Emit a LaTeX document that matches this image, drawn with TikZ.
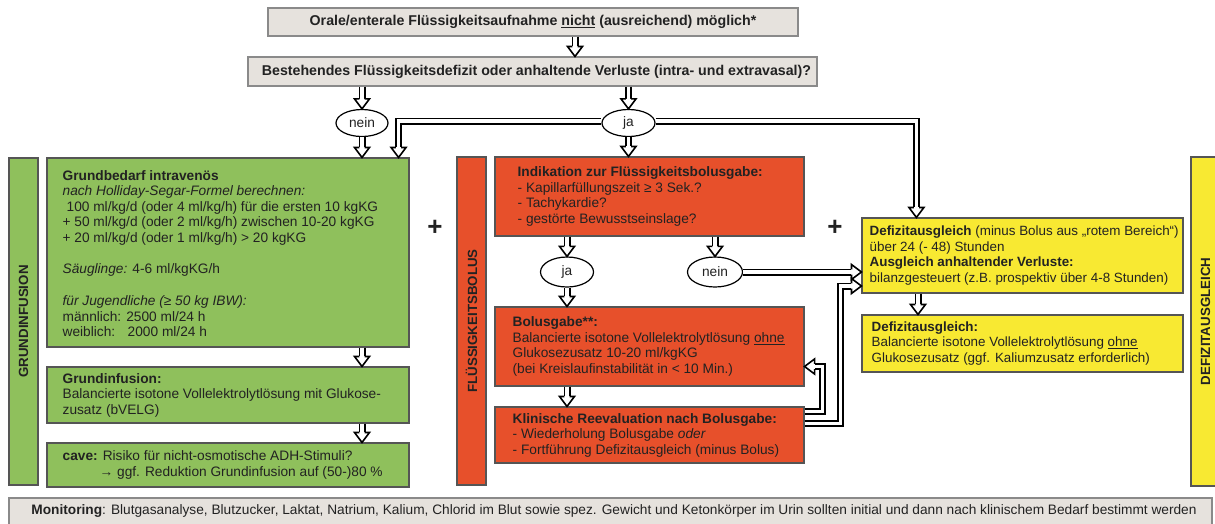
\documentclass[tikz,border=0pt]{standalone}
\usepackage{fontspec}
\setmainfont{Liberation Sans}
\usetikzlibrary{arrows.meta,shapes.geometric,calc,decorations.markings}
\definecolor{bgray}{HTML}{E6E2DD}
\definecolor{bline}{HTML}{555555}
\definecolor{tline}{HTML}{8A8A8A}
\definecolor{gfill}{HTML}{8FC05C}
\definecolor{rfill}{HTML}{E7502B}
\definecolor{yfill}{HTML}{F8E932}
\definecolor{txt}{HTML}{222222}
\newcommand\hconn[1]{\draw[hshaft] #1; \path[hhead] #1;}
\begin{document}
\begin{tikzpicture}[x=1pt,y=-1pt,
  every node/.style={font=\fontsize{13.7}{15.5}\selectfont, inner sep=0pt, text=txt},
  box/.style={draw=bline, line width=1.1pt, rectangle, inner sep=0pt},
  graybox/.style={box, draw=tline, fill=bgray},
  greenbox/.style={box, fill=gfill},
  redbox/.style={box, fill=rfill},
  yellowbox/.style={box, fill=yfill},
  dec/.style={ellipse, draw=black, fill=white, line width=1.2pt, inner sep=0pt},
  hshaft/.style={draw=black, double=white, double distance=3.6pt, line width=1.7pt, shorten >=10pt, line join=miter},
  hhead/.style={decorate, decoration={markings, mark=at position 0.99999 with {
     \fill[white] (-10pt,2.65pt) -- (-10pt,7.5pt) -- (0pt,0pt) -- (-10pt,-7.5pt) -- (-10pt,-2.65pt) -- cycle;
     \draw[black, line width=1.6pt, line join=miter, line cap=butt] (-10pt,2.65pt) -- (-10pt,7.5pt) -- (0pt,0pt) -- (-10pt,-7.5pt) -- (-10pt,-2.65pt);
  }}},
  btext/.style={align=left, anchor=west},
  ytext/.style={btext, font=\fontsize{13.4}{15.5}\selectfont},
  toptext/.style={font=\fontsize{14.2}{16}\selectfont\bfseries},
  side/.style={rotate=90, font=\fontsize{13.3}{15.5}\selectfont\bfseries},
  plus/.style={font=\fontsize{26}{26}\selectfont\bfseries}
]
\useasboundingbox (0,0) rectangle (1215,523);
\clip (0,0) rectangle (1215,523);

% top boxes
\node[graybox, minimum width=530pt, minimum height=28pt] (top1) at (533,22) {};
\node[toptext] (top1t) at (top1) {Orale/enterale Flüssigkeitsaufnahme \underline{nicht} (ausreichend) möglich*};
\node[graybox, minimum width=569pt, minimum height=29pt] (top2) at (532.5,71.5) {};
\node[toptext] (top2t) at ([xshift=4pt]top2.center) {Bestehendes Flüssigkeitsdefizit oder anhaltende Verluste (intra- und extravasal)?};

% decisions
\node[dec, minimum width=52pt, minimum height=27pt] (n1) at (362,123) {nein};
\node[dec, minimum width=53pt, minimum height=27pt] (j1) at (628.5,123) {ja};

% side bars
\node[box, fill=gfill, minimum width=29pt, minimum height=327pt] (gbar) at (23.5,321.5) {};
\node[side] (gbart) at (gbar) {GRUNDINFUSION};
\node[box, fill=rfill, minimum width=29pt, minimum height=328pt] (rbar) at (471.5,321) {};
\node[side] (rbart) at (rbar) {FLÜSSIGKEITSBOLUS};
\node[box, fill=yfill, minimum width=29pt, minimum height=329pt] (ybar) at (1205.5,321.5) {};
\node[side] (ybart) at (ybar) {DEFIZITAUSGLEICH};

% green column
\node[greenbox, minimum width=362pt, minimum height=189pt] (g1) at (228,252.5) {};
\node[btext] (g1t) at ([xshift=16pt,yshift=-1pt]g1.west) {\textbf{Grundbedarf intravenös}\\
\textit{nach Holliday-Segar-Formel berechnen:}\\
\hspace{4pt}100 ml/kg/d (oder 4 ml/kg/h) für die ersten 10 kgKG\\
+ 50 ml/kg/d (oder 2 ml/kg/h) zwischen 10-20 kgKG\\
+ 20 ml/kg/d (oder 1 ml/kg/h) > 20 kgKG\\
\mbox{}\\
\textit{Säuglinge:} 4-6 ml/kgKG/h\\
\mbox{}\\[1.5pt]
\textit{für Jugendliche (≥ 50 kg IBW):}\\
männlich: 2500 ml/24 h\\
weiblich: \hspace{7.5pt}2000 ml/24 h};
\node[greenbox, minimum width=362pt, minimum height=56pt] (g2) at (228,395) {};
\node[btext] (g2t) at ([xshift=16pt]g2.west) {\textbf{Grundinfusion:}\\
Balancierte isotone Vollelektrolytlösung mit Glukose-\\
zusatz (bVELG)};
\node[greenbox, minimum width=362pt, minimum height=44pt] (g3) at (228,465) {};
\node[btext] (g3t) at ([xshift=16pt]g3.west) {\textbf{cave:} Risiko für nicht-osmotische ADH-Stimuli?\\
\hspace{37pt}→ ggf. Reduktion Grundinfusion auf (50-)80 \%};

% red column
\node[redbox, minimum width=309pt, minimum height=79pt] (r1) at (649.5,196.5) {};
\node[btext] (r1t) at ([xshift=23pt]r1.west) {\textbf{Indikation zur Flüssigkeitsbolusgabe:}\\
- Kapillarfüllungszeit ≥ 3 Sek.?\\
- Tachykardie?\\
- gestörte Bewusstseinslage?};
\node[dec, minimum width=53pt, minimum height=30pt] (j2) at (567,272) {ja};
\node[dec, minimum width=55pt, minimum height=30pt] (n2) at (715,272) {nein};
\node[redbox, minimum width=309pt, minimum height=79pt] (r2) at (649.5,346.5) {};
\node[btext] (r2t) at ([xshift=18pt]r2.west) {\textbf{Bolusgabe**:}\\
Balancierte isotone Vollelektrolytlösung \underline{ohne}\\
Glukosezusatz 10-20 ml/kgKG\\
(bei Kreislaufinstabilität in < 10 Min.)};
\node[redbox, minimum width=309pt, minimum height=56pt] (r3) at (649.5,435) {};
\node[btext] (r3t) at ([xshift=18pt]r3.west) {\textbf{Klinische Reevaluation nach Bolusgabe:}\\
- Wiederholung Bolusgabe \textit{oder}\\
- Fortführung Defizitausgleich (minus Bolus)};

% yellow column
\node[yellowbox, minimum width=321pt, minimum height=75pt] (y1) at (1022.5,255.5) {};
\node[ytext] (y1t) at ([xshift=8pt]y1.west) {\textbf{Defizitausgleich} (minus Bolus aus „rotem Bereich“)\\
über 24 (- 48) Stunden\\
\textbf{Ausgleich anhaltender Verluste:}\\
bilanzgesteuert (z.B. prospektiv über 4-8 Stunden)};
\node[yellowbox, minimum width=321pt, minimum height=57pt] (y2) at (1022.5,343.5) {};
\node[ytext] (y2t) at ([xshift=10pt]y2.west) {\textbf{Defizitausgleich:}\\
Balancierte isotone Vollelektrolytlösung \underline{ohne}\\
Glukosezusatz (ggf. Kaliumzusatz erforderlich)};

% plus signs
\node[plus] (p1) at (435,228) {+};
\node[plus] (p2) at (835,228) {+};

% monitoring
\node[graybox, minimum width=1203pt, minimum height=27pt] (mon) at (610.5,511.5) {};
\node (mont) at (614,511) {\textbf{Monitoring}: Blutgasanalyse, Blutzucker, Laktat, Natrium, Kalium, Chlorid im Blut sowie spez. Gewicht und Ketonkörper im Urin sollten initial und dann nach klinischem Bedarf bestimmt werden};

% helper coordinates
\coordinate (ax1) at (575,0);
\coordinate (ax2) at (918,0);

% connectors
\hconn{(top1.south -| ax1) -- (top2.north -| ax1)}
\hconn{(top2.south -| n1) -- (n1.north)}
\hconn{(top2.south -| j1) -- (j1.north)}
\hconn{(n1.south) -- (n1.south |- g1.north)}
\hconn{(j1.south) -- (j1.south |- r1.north)}
\hconn{([yshift=2pt]j1.west) -| ([xshift=-11pt]g1.north east)}
\hconn{([yshift=2pt]j1.east) -| ([xshift=55pt]y1.north west)}
\hconn{(g1.south -| n1) -- (g2.north -| n1)}
\hconn{(g2.south -| n1) -- (g3.north -| n1)}
\hconn{(r1.south -| j2) -- (j2.north)}
\hconn{(r1.south -| n2) -- (n2.north)}
\hconn{(j2.south) -- (j2.south |- r2.north)}
\hconn{(r2.south -| j2) -- (r3.north -| j2)}
\hconn{(y1.south -| ax2) -- (y2.north -| ax2)}
\hconn{(n2.east) -- (n2.east -| y1.west)}
\hconn{([yshift=-5pt]r3.north east) -- ++(18,0) |- ([yshift=-20pt]r2.east)}
\hconn{([yshift=-17pt]r3.north east) -- ++(36,0) |- ([yshift=-30.5pt]y1.west)}
\end{tikzpicture}
\end{document}
